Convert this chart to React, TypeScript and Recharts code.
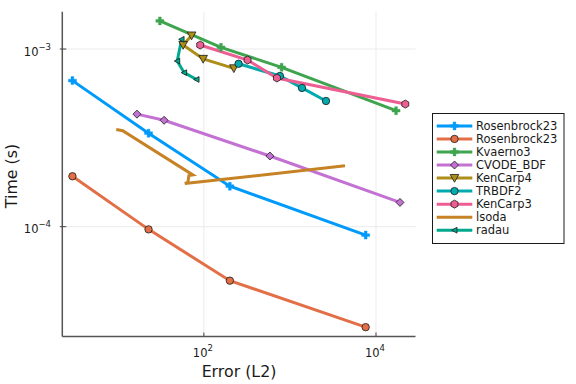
import React from "react";
import { LineChart, Line, XAxis, YAxis, ReferenceLine } from "recharts";

const W = 576;
const H = 384;
const PLOT_LEFT = 62.3;
const PLOT_RIGHT = 415.5;
const PLOT_TOP = 11.7;
const PLOT_BOTTOM = 336.5;
const FONT = "'DejaVu Sans', sans-serif";

// ---- data ----
const xTicks = [100, 10000];
const xTickExps = ["2", "4"];
const yTicks = [1e-4, 1e-3];
const yTickExps = ["\u22124", "\u22123"];
const xDomain = [2.265, 28770];
const yDomain = [2.41e-5, 1.622e-3];

const rosenbrockBlueErr = [2.97, 22.75, 200.4, 7586];
const rosenbrockBlueTime = [6.64e-4, 3.36e-4, 1.69e-4, 8.97e-5];
const rosenbrockRedErr = [2.97, 22.75, 200.4, 7586];
const rosenbrockRedTime = [1.923e-4, 9.66e-5, 4.97e-5, 2.72e-5];
const kvaerno3Err = [30.8, 157.9, 800, 17100];
const kvaerno3Time = [1.439e-3, 1.022e-3, 7.89e-4, 4.5e-4];
const cvodeErr = [16.7, 34.5, 584.7, 19000];
const cvodeTime = [4.3e-4, 3.97e-4, 2.5e-4, 1.37e-4];
const kenCarp4Err = [72, 57.4, 98.1, 223];
const kenCarp4Time = [1.19e-3, 1.053e-3, 8.79e-4, 7.78e-4];
const trbdf2Err = [253, 765, 1380, 2624];
const trbdf2Time = [8.26e-4, 7.05e-4, 6.04e-4, 5.1e-4];
const kenCarp3Err = [90.6, 322, 706, 21900];
const kenCarp3Time = [1.053e-3, 8.67e-4, 6.87e-4, 4.9e-4];
const lsodaErr = [9.6, 11.4, 74.5, 67, 65.1, 60.1, 4365];
const lsodaTime = [3.52e-4, 3.47e-4, 1.955e-4, 1.94e-4, 1.775e-4, 1.75e-4, 2.2e-4];
const radauErr = [55.1, 49, 59, 82.2];
const radauTime = [1.134e-3, 8.56e-4, 7.36e-4, 6.74e-4];

const seriesNames = [
  "Rosenbrock23",
  "Rosenbrock23",
  "Kvaerno3",
  "CVODE_BDF",
  "KenCarp4",
  "TRBDF2",
  "KenCarp3",
  "lsoda",
  "radau",
];
const seriesColors = [
  "#009AFA",
  "#E36F47",
  "#3EA44E",
  "#C371D2",
  "#AC8E18",
  "#00AAAE",
  "#ED5E93",
  "#C68225",
  "#00A98D",
];
const seriesMarkers = [
  "cross",
  "circle",
  "cross",
  "diamond",
  "dtriangle",
  "circle",
  "hexagon",
  "none",
  "ltriangle",
];
const seriesX = [
  rosenbrockBlueErr,
  rosenbrockRedErr,
  kvaerno3Err,
  cvodeErr,
  kenCarp4Err,
  trbdf2Err,
  kenCarp3Err,
  lsodaErr,
  radauErr,
];
const seriesY = [
  rosenbrockBlueTime,
  rosenbrockRedTime,
  kvaerno3Time,
  cvodeTime,
  kenCarp4Time,
  trbdf2Time,
  kenCarp3Time,
  lsodaTime,
  radauTime,
];

const series = seriesNames.map((name, i) => ({
  name,
  color: seriesColors[i],
  marker: seriesMarkers[i],
  data: seriesX[i].map((x, j) => ({ x, y: seriesY[i][j] })),
}));

function Marker({ shape, cx, cy, fill }: { shape: string; cx: number; cy: number; fill: string }) {
  const s = "#1a1a1a";
  const sw = 0.8;
  switch (shape) {
    case "cross": {
      const a = 4;
      const b = 1.4;
      const pts = [
        [cx - b, cy - a],
        [cx + b, cy - a],
        [cx + b, cy - b],
        [cx + a, cy - b],
        [cx + a, cy + b],
        [cx + b, cy + b],
        [cx + b, cy + a],
        [cx - b, cy + a],
        [cx - b, cy + b],
        [cx - a, cy + b],
        [cx - a, cy - b],
        [cx - b, cy - b],
      ]
        .map((p) => p.join(","))
        .join(" ");
      return <polygon points={pts} fill={fill} stroke={fill} strokeWidth={0.4} />;
    }
    case "circle":
      return <circle cx={cx} cy={cy} r={3.7} fill={fill} stroke={s} strokeWidth={sw} />;
    case "diamond": {
      const a = 4;
      const pts = `${cx},${cy - a} ${cx + a},${cy} ${cx},${cy + a} ${cx - a},${cy}`;
      return <polygon points={pts} fill={fill} stroke={s} strokeWidth={sw} />;
    }
    case "dtriangle": {
      const pts = `${cx - 4.3},${cy - 3.6} ${cx + 4.3},${cy - 3.6} ${cx},${cy + 4.2}`;
      return <polygon points={pts} fill={fill} stroke={s} strokeWidth={sw} />;
    }
    case "hexagon": {
      const r = 4;
      const pts = [0, 1, 2, 3, 4, 5]
        .map((k) => {
          const ang = (Math.PI / 3) * k + Math.PI / 6;
          return `${cx + r * Math.cos(ang)},${cy + r * Math.sin(ang)}`;
        })
        .join(" ");
      return <polygon points={pts} fill={fill} stroke={s} strokeWidth={sw} />;
    }
    case "ltriangle": {
      const pts = `${cx - 2.9},${cy} ${cx + 2.5},${cy - 2.9} ${cx + 2.5},${cy + 2.9}`;
      return <polygon points={pts} fill={fill} stroke={s} strokeWidth={sw} />;
    }
    default:
      return null;
  }
}

const makeDot = (shape: string, fill: string) => (props: any) => {
  const { cx, cy, index } = props;
  if (shape === "none" || cx == null || cy == null) return <g key={`d-${index}`} />;
  return (
    <g key={`d-${index}`}>
      <Marker shape={shape} cx={cx} cy={cy} fill={fill} />
    </g>
  );
};

const XTick = (props: any) => {
  const { x, payload, index } = props;
  const idx = xTicks.indexOf(payload.value);
  const exp = xTickExps[idx >= 0 ? idx : index] ?? "";
  return (
    <g>
      <line x1={x} x2={x} y1={PLOT_BOTTOM} y2={PLOT_BOTTOM - 4} stroke="#444" strokeWidth={1} />
      <text x={x - 1} y={PLOT_BOTTOM + 20.2} textAnchor="middle" fontFamily={FONT} fontSize={11.5} fill="#1a1a1a">
        10
        <tspan dy={-6} fontSize={8.5}>
          {exp}
        </tspan>
      </text>
    </g>
  );
};

const YTick = (props: any) => {
  const { y, payload, index } = props;
  const idx = yTicks.findIndex((t) => Math.abs(t - payload.value) / t < 1e-6);
  const exp = yTickExps[idx >= 0 ? idx : index] ?? "";
  return (
    <g>
      <line x1={PLOT_LEFT - 2.5} x2={PLOT_LEFT + 4} y1={y} y2={y} stroke="#444" strokeWidth={1} />
      <text x={51} y={y + 6.7} textAnchor="end" fontFamily={FONT} fontSize={11.5} fill="#1a1a1a">
        10
        <tspan dy={-6} fontSize={8.5}>
          {exp}
        </tspan>
      </text>
    </g>
  );
};

function LegendBox() {
  const x0 = 432.5;
  const y0 = 113.5;
  const rowY0 = 125.9;
  const step = 13.04;
  return (
    <svg
      width={W}
      height={H}
      style={{ position: "absolute", left: 0, top: 0, pointerEvents: "none" }}
    >
      <text
        x={239}
        y={377.3}
        textAnchor="middle"
        fontFamily={FONT}
        fontSize={15.8}
        fill="#1a1a1a"
      >
        Error (L2)
      </text>
      <text
        x={11}
        y={176}
        textAnchor="middle"
        dominantBaseline="central"
        transform="rotate(-90 11 176)"
        fontFamily={FONT}
        fontSize={15.8}
        fill="#1a1a1a"
      >
        Time (s)
      </text>
      <rect x={x0} y={y0} width={131.5} height={130} fill="#ffffff" stroke="#1a1a1a" strokeWidth={1} />
      {series.map((s, i) => {
        const cy = rowY0 + step * i;
        return (
          <g key={`lg-${i}`}>
            <line x1={436.7} x2={472.3} y1={cy} y2={cy} stroke={s.color} strokeWidth={3} />
            {s.marker !== "none" && <Marker shape={s.marker} cx={454.5} cy={cy} fill={s.color} />}
            <text
              x={476}
              y={cy}
              dominantBaseline="central"
              fontFamily={FONT}
              fontSize={11.5}
              fill="#1a1a1a"
            >
              {s.name}
            </text>
          </g>
        );
      })}
    </svg>
  );
}

export default function App() {
  return (
    <div style={{ position: "absolute", left: 0, top: 0, width: W, height: H, background: "#fff" }}>
      <LineChart
        width={W}
        height={H}
        margin={{ top: PLOT_TOP, right: W - PLOT_RIGHT, bottom: 0, left: 0 }}
      >
        <XAxis
          type="number"
          dataKey="x"
          scale="log"
          domain={xDomain}
          ticks={xTicks}
          allowDataOverflow
          height={H - PLOT_BOTTOM}
          tickLine={false}
          axisLine={{ stroke: "#555", strokeWidth: 1.5 }}
          tick={<XTick />}
          interval={0}
        />
        <YAxis
          type="number"
          dataKey="y"
          scale="log"
          domain={yDomain}
          ticks={yTicks}
          allowDataOverflow
          width={PLOT_LEFT}
          tickLine={false}
          axisLine={{ stroke: "#555", strokeWidth: 1.5 }}
          tick={<YTick />}
          interval={0}
        />
        {xTicks.map((t) => (
          <ReferenceLine key={`gx-${t}`} x={t} stroke="#ebebeb" strokeWidth={1} />
        ))}
        {yTicks.map((t) => (
          <ReferenceLine key={`gy-${t}`} y={t} stroke="#ebebeb" strokeWidth={1} />
        ))}
        {series.map((s, i) => (
          <Line
            key={`s-${i}`}
            data={s.data}
            dataKey="y"
            name={s.name}
            type="linear"
            stroke={s.color}
            strokeWidth={3}
            dot={makeDot(s.marker, s.color)}
            activeDot={false}
            isAnimationActive={false}
          />
        ))}
      </LineChart>
      <LegendBox />
    </div>
  );
}
